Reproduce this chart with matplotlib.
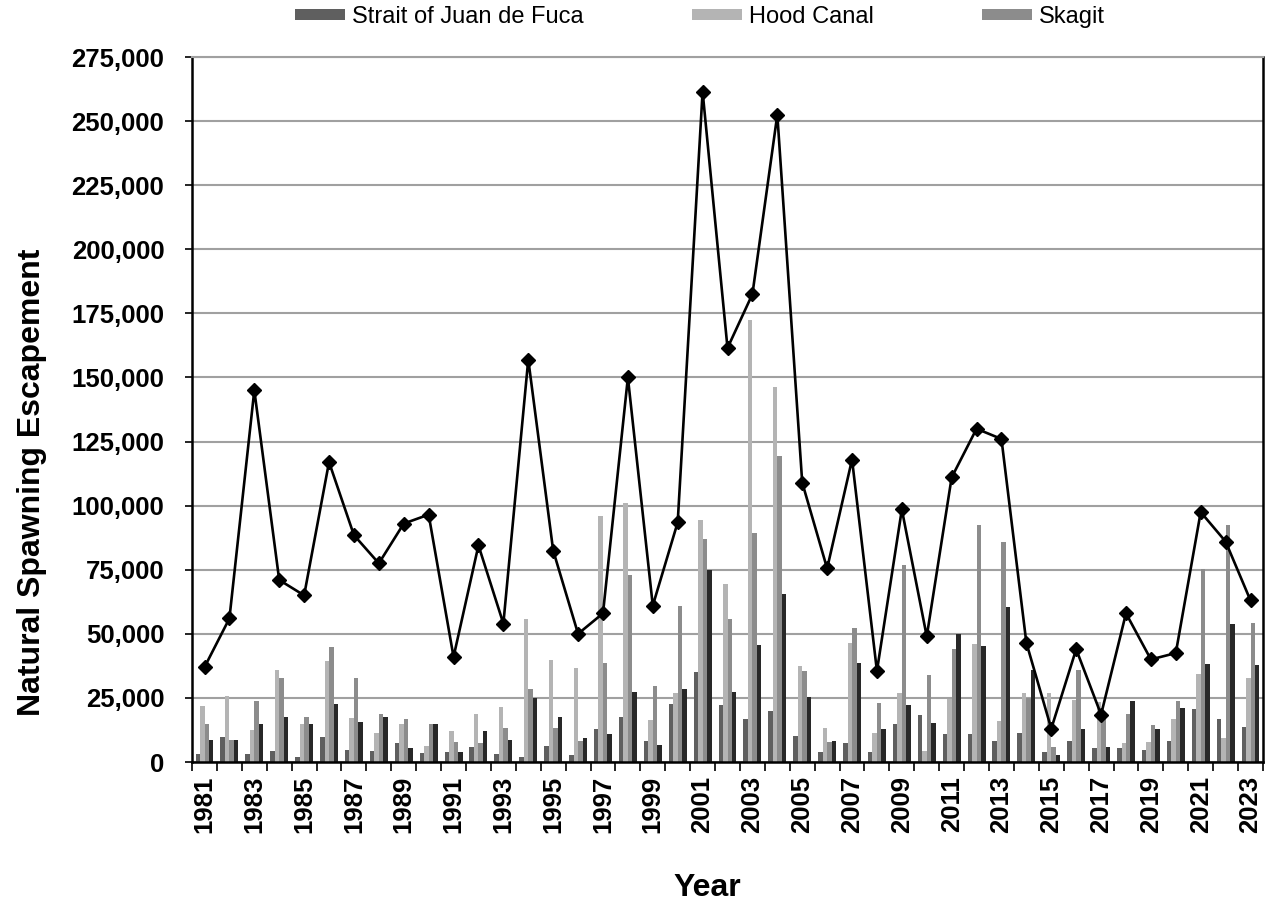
import numpy as np
import matplotlib
matplotlib.use("Agg")
import matplotlib.pyplot as plt
from matplotlib.ticker import FuncFormatter

plt.rcParams['font.family'] = ['Liberation Sans', 'DejaVu Sans']

years = list(range(1981, 2024))

# bar series
strait = [3300, 9600, 3300, 4200, 2100, 9600, 4700, 4200, 7300, 3600,
          3800, 5700, 3100, 2100, 6200, 2600, 12800, 17700, 8300, 22800,
          35300, 22300, 16800, 19900, 10300, 3900, 7400, 3900, 14800, 18400,
          10800, 10800, 8300, 11300, 3900, 8300, 5300, 5300, 4800, 8300,
          20800, 16800, 13800]
hood = [21700, 25600, 12600, 35800, 14700, 39300, 17200, 11200, 14700, 6100,
        12200, 18700, 21600, 55700, 39700, 36800, 96100, 101000, 16400, 27000,
        94400, 69400, 172300, 146100, 37500, 13300, 46500, 11300, 27000, 4300,
        24500, 46100, 16000, 27000, 27000, 24300, 23500, 7400, 7800, 16800,
        34400, 9400, 32800]
skagit = [14700, 8700, 23700, 32800, 17700, 44700, 32700, 18600, 16700, 14700,
          7700, 7300, 13200, 28600, 13200, 8200, 38800, 72800, 29800, 60800,
          86800, 55900, 89400, 119500, 35500, 7800, 52300, 22900, 76900, 33900,
          43900, 92400, 85900, 25100, 5900, 35900, 18000, 18900, 14300, 23800,
          75100, 92600, 54400]
other = [8700, 8700, 14700, 17700, 14700, 22700, 15600, 17700, 5600, 14700,
         3800, 12200, 8600, 25000, 17700, 9200, 10800, 27200, 6600, 28300,
         74900, 27200, 45800, 65500, 25300, 8300, 38800, 12900, 22300, 15200,
         49900, 45300, 60400, 35800, 2700, 12900, 5900, 23800, 12900, 21200,
         38400, 53900, 37900]
# line series
line_vals = [37000, 56000, 145000, 71000, 65000, 117000, 88500, 77500, 93000, 96500,
             41000, 84500, 54000, 157000, 82500, 50000, 58000, 150000, 61000, 93500,
             261500, 161500, 182500, 252500, 109000, 75500, 118000, 35500, 98500, 49000,
             111000, 130000, 126000, 46500, 13000, 44000, 18500, 58000, 40000, 42500,
             97500, 86000, 63000]

x = np.arange(len(years))
w = 0.18

fig = plt.figure(figsize=(12.66, 9.14), dpi=100)
ax = fig.add_axes([0.1517, 0.1663, 0.8459, 0.7713])

ax.bar(x - 1.5 * w, strait, w, color='#5f5f5f', label='Strait of Juan de Fuca', zorder=2)
ax.bar(x - 0.5 * w, hood, w, color='#b4b4b4', label='Hood Canal', zorder=2)
ax.bar(x + 0.5 * w, skagit, w, color='#8c8c8c', label='Skagit', zorder=2)
ax.bar(x + 1.5 * w, other, w, color='#282828', zorder=2)
ax.plot(x, line_vals, color='black', lw=1.9, marker='D', ms=7.5, zorder=3)

ax.set_xlim(-0.5, len(years) - 0.5)
ax.set_ylim(0, 275000)
ax.set_yticks(np.arange(0, 275001, 25000))
ax.yaxis.set_major_formatter(FuncFormatter(lambda v, p: f'{int(v):,}'))
ax.yaxis.grid(True, color='#a0a0a0', lw=1.5, zorder=0)
ax.set_axisbelow(True)

ax.set_xticks(x[::2])
ax.set_xticklabels([str(y) for y in years[::2]], rotation=90)
ax.set_xticks(np.arange(-0.5, len(years), 1), minor=True)
ax.tick_params(axis='x', which='major', length=0, pad=10)
ax.tick_params(axis='x', which='minor', length=6.5, width=1.2, direction='out')
ax.tick_params(axis='y', length=5, width=1.2, direction='out', pad=15)
for lab in ax.get_xticklabels() + ax.get_yticklabels():
    lab.set_fontsize(18.5)
    lab.set_fontweight('bold')

for s in ['left', 'bottom', 'right']:
    ax.spines[s].set_color('black')
    ax.spines[s].set_linewidth(1.8)
ax.spines['top'].set_color('#a0a0a0')
ax.spines['top'].set_linewidth(1.5)

ax.set_ylabel('Natural Spawning Escapement', fontsize=23, fontweight='bold')
ax.yaxis.set_label_coords(-0.1354, 0.397)
ax.set_xlabel('Year', fontsize=23, fontweight='bold')
ax.xaxis.set_label_coords(0.481, -0.157)

fig.legend(loc='center', bbox_to_anchor=(0.553, 0.981), ncol=3, frameon=False,
           fontsize=17, handlelength=2.1, handleheight=0.35, columnspacing=4.6,
           handletextpad=0.3)

fig.savefig('out.png', dpi=100)
